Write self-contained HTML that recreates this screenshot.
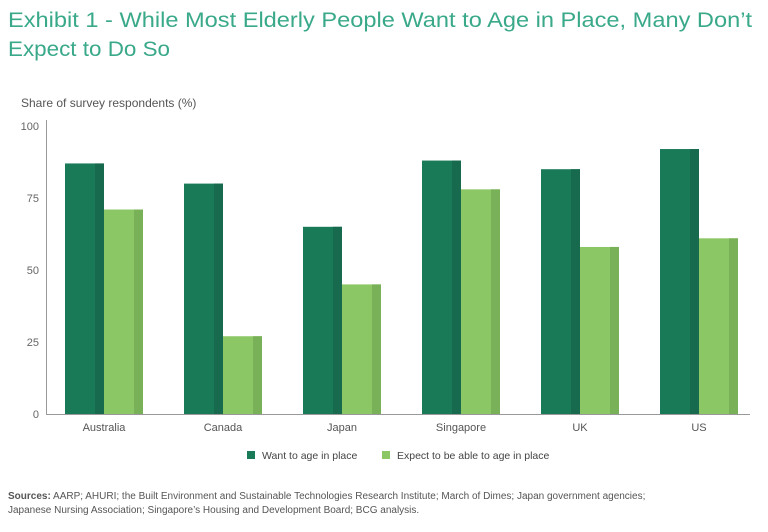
<!DOCTYPE html>
<html><head><meta charset="utf-8"><style>
body{margin:0;width:768px;height:527px;background:#fff;overflow:hidden;font-family:"Liberation Sans",sans-serif}
</style></head><body>
<svg width="768" height="527" xmlns="http://www.w3.org/2000/svg">
<text x="8" y="27" font-size="21" fill="#3aa98a" textLength="744" lengthAdjust="spacingAndGlyphs">Exhibit 1 - While Most Elderly People Want to Age in Place, Many Don’t</text>
<text x="8" y="56" font-size="21" fill="#3aa98a" textLength="162" lengthAdjust="spacingAndGlyphs">Expect to Do So</text>
<text x="21" y="107" font-size="12" fill="#555">Share of survey respondents (%)</text>
<g id="ticks"></g>
<g id="bars"></g>
<line x1="46.5" y1="120" x2="46.5" y2="414" stroke="#999" stroke-width="1"/>
<line x1="46" y1="414.5" x2="750" y2="414.5" stroke="#999" stroke-width="1"/>
<g>
<rect x="247" y="451" width="8" height="8" fill="#197a58"/>
<text x="262" y="459" font-size="10.5" fill="#444">Want to age in place</text>
<rect x="382" y="451" width="8" height="8" fill="#8bc765"/>
<text x="397" y="459" font-size="10.5" fill="#444">Expect to be able to age in place</text>
</g>
<text x="8" y="499" font-size="10" fill="#555"><tspan font-weight="bold">Sources:</tspan> AARP; AHURI; the Built Environment and Sustainable Technologies Research Institute; March of Dimes; Japan government agencies;</text>
<text x="8" y="513" font-size="10" fill="#555">Japanese Nursing Association; Singapore’s Housing and Development Board; BCG analysis.</text>
</svg>
<script>
const categories=["Australia","Canada","Japan","Singapore","UK","US"];
const wantValues=[87,80,65,88,85,92];
const expectValues=[71,27,45,78,58,61];
const yTicks=[0,25,50,75,100];
const ns="http://www.w3.org/2000/svg";
const y=v=>414-v*2.88;
const cx=i=>104+i*119;
const tg=document.getElementById("ticks"),bg=document.getElementById("bars");
function mk(t,a,p){const e=document.createElementNS(ns,t);for(const k in a)e.setAttribute(k,a[k]);p.appendChild(e);return e;}
yTicks.forEach(v=>{const t=mk("text",{x:39,y:y(v)+4,"font-size":11,fill:"#666","text-anchor":"end"},tg);t.textContent=v;

});
categories.forEach((c,i)=>{
 const x=cx(i);
 [[wantValues[i],x-39,"#197a58","#176a4e","want"],[expectValues[i],x,"#8bc765","#78b157","expect"]].forEach(([v,x0,c1,c2,n])=>{
  const g=mk("g",{},bg);
  
  
  mk("rect",{x:x0,y:y(v),width:39,height:414-y(v),fill:c1},g);
  mk("rect",{x:x0+30,y:y(v),width:9,height:414-y(v),fill:c2},g);
 });
 const t=mk("text",{x:x,y:431,"font-size":11,fill:"#555","text-anchor":"middle"},bg);t.textContent=c;
 
 
});
</script>
</body></html>
